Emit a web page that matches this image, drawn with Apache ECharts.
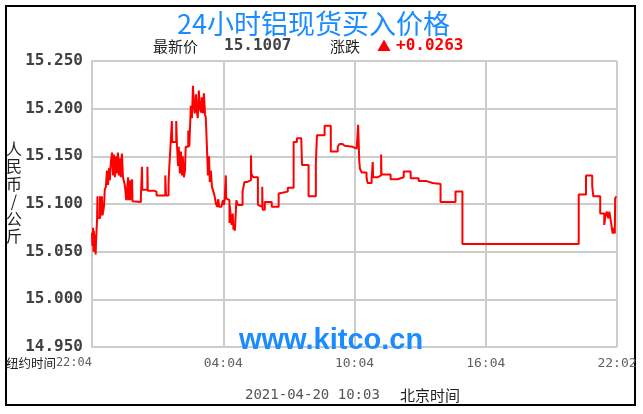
<!DOCTYPE html>
<html><head><meta charset="utf-8">
<script src="https://cdn.jsdelivr.net/npm/echarts@6/dist/echarts.min.js"></script>
<style>html,body{margin:0;padding:0;background:#fff}#c{width:643px;height:414px}</style>
</head><body><div id="c"></div>
<script>
const titleText = "24小时铝现货买入价格";
const latestLabel = "最新价";
const latestPrice = "15.1007";
const changeLabel = "涨跌";
const changeArrow = "▲";
const changeValue = "+0.0263";
const yAxisName = "人民币/公斤";
const xPrefix = "纽约时间";
const xTickLabels = ["22:04", "04:04", "10:04", "16:04", "22:02"];
const timestampText = "2021-04-20 10:03";
const tzText = "北京时间";
const watermarkText = "www.kitco.cn";

// minutes since 22:04 (New York time) at which the price changed
const minutes = [0,1,3,4,5,7,8,10,11,14,15,16,19,22,23,27,29,33,35,38,41,44,47,49,52,55,58,60,63,66,68,71,74,77,79,82,85,90,94,99,100,104,105,110,111,115,134,137,138,152,153,170,177,201,203,210,211,216,219,220,231,233,236,238,241,244,247,249,252,255,257,264,267,271,274,277,279,282,285,288,290,293,296,299,301,304,307,310,312,315,318,321,323,326,329,333,336,340,344,346,349,355,359,362,364,367,368,373,377,378,381,383,386,388,390,392,396,400,413,418,425,436,437,442,455,457,467,468,474,493,512,515,537,553,562,574,576,594,614,617,638,655,674,679,687,693,715,726,730,733,735,737,740,753,756,767,770,771,783,793,794,819,838,855,874,896,918,934,956,997,1016,1335,1355,1372,1375,1394,1405,1408,1412,1416,1419,1424,1428,1431,1434,1435,1438];
// new price (CNY / kg) from that minute on
const prices = [15.070,15.056,15.075,15.050,15.072,15.052,15.068,15.047,15.060,15.085,15.108,15.086,15.085,15.108,15.087,15.108,15.088,15.098,15.115,15.118,15.135,15.120,15.138,15.125,15.145,15.154,15.130,15.152,15.128,15.150,15.132,15.154,15.130,15.148,15.128,15.153,15.128,15.120,15.104,15.128,15.104,15.125,15.104,15.126,15.103,15.102,15.106,15.139,15.115,15.139,15.114,15.113,15.109,15.130,15.109,15.120,15.132,15.165,15.187,15.165,15.187,15.163,15.140,15.160,15.132,15.155,15.130,15.150,15.128,15.135,15.160,15.177,15.160,15.203,15.190,15.224,15.205,15.195,15.215,15.196,15.190,15.219,15.200,15.196,15.212,15.195,15.216,15.194,15.191,15.162,15.130,15.150,15.123,15.135,15.118,15.113,15.109,15.100,15.097,15.105,15.097,15.095,15.104,15.099,15.105,15.130,15.106,15.104,15.080,15.098,15.085,15.078,15.090,15.073,15.078,15.072,15.104,15.099,15.113,15.123,15.125,15.151,15.132,15.128,15.099,15.097,15.118,15.094,15.102,15.097,15.111,15.113,15.117,15.165,15.169,15.171,15.141,15.108,15.143,15.172,15.182,15.155,15.160,15.163,15.161,15.160,15.158,15.160,15.183,15.145,15.137,15.135,15.133,15.128,15.122,15.126,15.144,15.128,15.130,15.152,15.131,15.126,15.128,15.134,15.127,15.124,15.122,15.121,15.102,15.113,15.058,15.110,15.130,15.119,15.108,15.090,15.078,15.087,15.092,15.085,15.092,15.080,15.069,15.075,15.069,15.106,15.108];

const seriesData = minutes.map((m, i) => [m, prices[i]]);
const monoFont = '"DejaVu Sans Mono", "Liberation Mono", monospace';
const cjkFont = '"Noto Sans CJK SC", sans-serif';

const chart = echarts.init(document.getElementById('c'), null, {renderer: 'canvas'});
chart.setOption({
  animation: false,
  backgroundColor: '#ffffff',
  title: {
    text: titleText,
    left: 172, top: 5,
    textStyle: {color: '#1a8cff', fontSize: 27, fontWeight: 'normal', fontFamily: cjkFont}
  },
  grid: {left: 92, right: 26, top: 61, bottom: 67, containLabel: false},
  xAxis: {
    type: 'value', min: 0, max: 1440, interval: 360,
    axisLine: {show: false},
    axisTick: {show: false},
    splitLine: {show: true, lineStyle: {color: '#cccccc', width: 2}},
    axisLabel: {
      margin: 10,
      alignMinLabel: 'right',
      color: '#606060', fontSize: 13, fontFamily: monoFont,
      formatter: function (v) {
        const idx = Math.round(v / 360);
        const lab = xTickLabels[idx] || '';
        if (idx === 0) return '{p|' + xPrefix + '}{t|' + lab + '}';
        return lab;
      },
      rich: {
        p: {color: '#222', fontSize: 12.5, fontFamily: cjkFont},
        t: {color: '#606060', fontSize: 12, fontFamily: monoFont}
      }
    }
  },
  yAxis: {
    type: 'value', min: 14.95, max: 15.25, interval: 0.05,
    axisLine: {show: true, lineStyle: {color: '#cccccc', width: 2}},
    axisTick: {show: false},
    splitLine: {show: true, lineStyle: {color: '#cccccc', width: 2}},
    axisLabel: {
      margin: 9, color: '#404040', fontSize: 16, fontWeight: 'bold', fontFamily: monoFont,
      formatter: v => v.toFixed(3)
    }
  },
  series: [{
    type: 'line', step: 'end', data: seriesData, showSymbol: false, symbol: 'none',
    lineStyle: {color: '#ff0000', width: 2}, z: 5
  }],
  graphic: [
    {type: 'rect', shape: {x: 6, y: 6, width: 629, height: 399}, style: {fill: null, stroke: '#000', lineWidth: 2}, silent: true},
    {type: 'text', x: 153, y: 46, style: {text: latestLabel, font: '15px ' + cjkFont, fill: '#222', verticalAlign: 'middle'}},
    {type: 'text', x: 224, y: 46, style: {text: latestPrice, font: 'bold 16px ' + monoFont, fill: '#444', verticalAlign: 'middle'}},
    {type: 'text', x: 330, y: 46, style: {text: changeLabel, font: '15px ' + cjkFont, fill: '#222', verticalAlign: 'middle'}},
    {type: 'text', x: 377, y: 46, style: {text: changeArrow, font: '14px ' + cjkFont, fill: '#ff0000', verticalAlign: 'middle'}},
    {type: 'text', x: 396, y: 46, style: {text: changeValue, font: 'bold 16px ' + monoFont, fill: '#ff0000', verticalAlign: 'middle'}},
    {type: 'text', x: 14, y: 140, style: {text: yAxisName.split('').join('\n'), font: '16px ' + cjkFont, lineHeight: 17.5, fill: '#222', align: 'center', verticalAlign: 'top'}},
    {type: 'text', x: 331, y: 341, style: {text: watermarkText, font: 'bold 29px "Liberation Sans", Arial, sans-serif', fill: '#1a8cff', align: 'center', verticalAlign: 'middle'}, z: 1},
    {type: 'text', x: 245, y: 395, style: {text: timestampText, font: '14px ' + monoFont, fill: '#555', verticalAlign: 'middle'}},
    {type: 'text', x: 400, y: 395, style: {text: tzText, font: '15px ' + cjkFont, fill: '#222', verticalAlign: 'middle'}}
  ]
});
</script>
</body></html>
